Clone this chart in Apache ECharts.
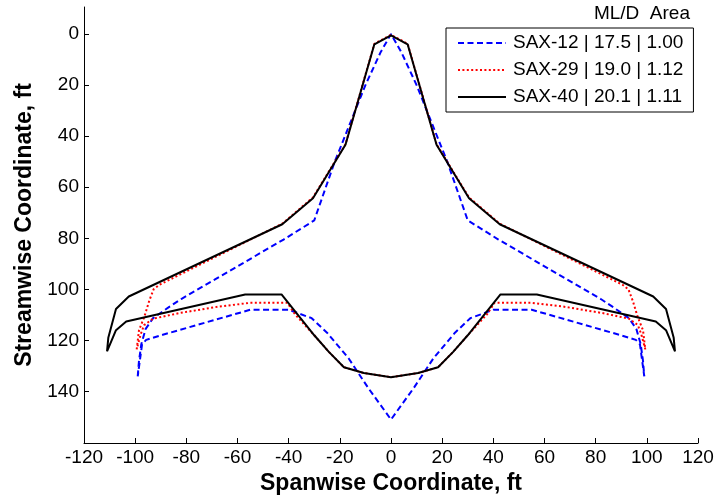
<!DOCTYPE html>
<html>
<head>
<meta charset="utf-8">
<script src="https://cdn.jsdelivr.net/npm/echarts@6/dist/echarts.min.js"></script>
<style>
html,body{margin:0;padding:0;background:#fff;}
#chart{width:723px;height:500px;}
</style>
</head>
<body>
<div id="chart"></div>
<script>
// Series names (legend labels)
var seriesNames = ['SAX-12 | 17.5 | 1.00', 'SAX-29 | 19.0 | 1.12', 'SAX-40 | 20.1 | 1.11'];
var legendHeader = 'ML/D  Area';

// Planform outlines: [spanwise x (ft), streamwise y (ft)]
var sax12 = [
  [-99,134.1],[-98.5,128],[-97.6,121.5],[-95.9,115.5],[-93,111.3],[-86.4,106.7],[-82,103.8],
  [-42,80.5],[-30,73],[-22,50],[-16,35],[-10,20],[-4,7],[0,0],
  [4,7],[10,20],[16,35],[22,50],[30,73],[42,80.5],[82,103.8],[86.4,106.7],[93,111.3],
  [95.9,115.5],[97.6,121.5],[98.5,128],[99,134.1],
  [97.3,121.5],[95.7,119.8],[89.2,117.8],[55,108],[40,108],[31,111.3],[25,117],[16.6,127],[9,138.5],[0,151],
  [-9,138.5],[-16.6,127],[-25,117],[-31,111.3],[-40,108],[-55,108],[-89.2,117.8],[-95.7,119.8],[-97.3,121.5],
  [-99,134.1]
];
var sax29 = [
  [-99.4,123.5],[-98.5,116],[-96.5,111],[-94.5,104.5],[-92.8,100],[-90.5,98.2],
  [-42.5,74.3],[-30.5,64],[-17.8,43.2],[-6.5,3.8],[0,0.3],
  [6.5,3.8],[17.8,43.2],[30.5,64],[42.5,74.3],[90.5,98.2],[92.8,100],[94.5,104.5],[96.5,111],[98.5,116],[99.4,123.5],
  [97.8,117.5],[96.5,114],[93,111.5],[82.7,109.3],[67,106.7],[55,105.3],[40.5,105.3],[37.5,109.8],
  [30,118],[24.3,124.5],[18.4,130.5],[10.6,132.8],[0,134.4],
  [-10.6,132.8],[-18.4,130.5],[-24.3,124.5],[-30,118],[-37.5,109.8],[-40.5,105.3],[-55,105.3],[-67,106.7],
  [-82.7,109.3],[-93,111.5],[-96.5,114],[-97.8,117.5],[-99.4,123.5]
];
var sax40 = [
  [-111,124.3],[-110.5,119],[-107.5,107.7],[-102.5,102.8],[-42.5,74.5],[-30.5,64.3],[-17.8,43.4],[-6.5,4],[0,0.5],
  [6.5,4],[17.8,43.4],[30.5,64.3],[42.5,74.5],[102.5,102.8],[107.5,107.7],[110.5,119],[111,124.3],
  [107.5,116],[103.5,112.6],[57,102],[42.8,102],[36,110.5],[30,118],[24.3,124.5],[18.4,130.5],[10.6,132.8],[0,134.4],
  [-10.6,132.8],[-18.4,130.5],[-24.3,124.5],[-30,118],[-36,110.5],[-42.8,102],[-57,102],[-103.5,112.6],[-107.5,116],
  [-111,124.3]
];

// Axis ticks
var xTicks = [-120,-100,-80,-60,-40,-20,0,20,40,60,80,100,120];
var yTicks = [0,20,40,60,80,100,120,140];

var FONT = 'Liberation Sans, Arial, sans-serif';
var chart = echarts.init(document.getElementById('chart'), null, {renderer:'canvas'});
chart.setOption({
  animation: false,
  backgroundColor: '#fff',
  title: {
    text: legendHeader, right: 33, top: 4, padding: 0,
    textStyle: {fontFamily: FONT, fontSize: 19, fontWeight: 'normal', color: '#000'}
  },
  legend: {
    orient: 'vertical', left: 446, top: 28,
    padding: [5, 10, 5, 11], itemWidth: 48, itemHeight: 14, itemGap: 7,
    borderColor: '#000', borderWidth: 1, backgroundColor: '#fff',
    itemStyle: {opacity: 0},
    textStyle: {fontFamily: FONT, fontSize: 19, color: '#000', lineHeight: 20, padding: [0,0,0,2]},
    data: seriesNames
  },
  grid: {left: 84, top: 7, width: 614, height: 436, containLabel: false},
  xAxis: {
    type: 'value', min: xTicks[0], max: xTicks[xTicks.length-1], interval: 20,
    name: 'Spanwise Coordinate, ft', nameLocation: 'middle', nameGap: 29,
    nameTextStyle: {fontFamily: FONT, fontSize: 23, fontWeight: 'bold', color: '#000'},
    axisLine: {show: true, onZero: false, lineStyle: {color: '#000', width: 1}},
    axisTick: {show: true, inside: true, length: 5, lineStyle: {color: '#000'}},
    axisLabel: {fontFamily: FONT, fontSize: 19, color: '#000', margin: 5},
    splitLine: {show: false}
  },
  yAxis: {
    type: 'value', inverse: true, min: -10.6, max: 160.2,
    name: 'Streamwise Coordinate, ft', nameLocation: 'middle', nameGap: 48,
    nameTextStyle: {fontFamily: FONT, fontSize: 23, fontWeight: 'bold', color: '#000'},
    axisLine: {show: true, onZero: false, lineStyle: {color: '#000', width: 1}},
    axisTick: {show: true, inside: true, length: 5, lineStyle: {color: '#000'}, customValues: yTicks},
    axisLabel: {fontFamily: FONT, fontSize: 19, color: '#000', margin: 5, customValues: yTicks},
    splitLine: {show: false}
  },
  series: [
    {name: seriesNames[0], type: 'line', data: sax12, symbol: 'none', smooth: false,
     lineStyle: {color: '#0000ff', width: 2, type: [6, 3.5]}, itemStyle: {color: '#0000ff'}},
    {name: seriesNames[1], type: 'line', data: sax29, symbol: 'none', smooth: false,
     lineStyle: {color: '#ff0000', width: 2, type: [2, 2.4]}, itemStyle: {color: '#ff0000'}},
    {name: seriesNames[2], type: 'line', data: sax40, symbol: 'none', smooth: false,
     lineStyle: {color: '#000000', width: 2, type: 'solid'}, itemStyle: {color: '#000000'}}
  ]
});
</script>
</body>
</html>
